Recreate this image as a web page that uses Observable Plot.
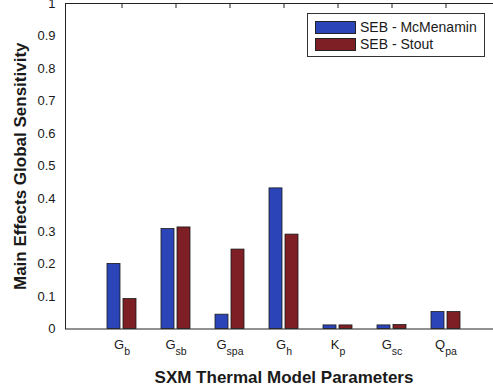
<!DOCTYPE html>
<html><head><meta charset="utf-8">
<script src="https://cdn.jsdelivr.net/npm/d3@7"></script>
<script src="https://cdn.jsdelivr.net/npm/@observablehq/plot@0.6"></script>
<style>
html,body{margin:0;padding:0;background:#fff;overflow:hidden;}
#wrap{position:relative;width:493px;height:391px;overflow:hidden;}
.legend{position:absolute;left:307px;top:13px;width:178px;height:44px;border:1px solid #333;background:#fff;font-family:"Liberation Sans",Arial,sans-serif;font-size:14px;color:#1a1a1a;box-sizing:border-box;}
.legend .row{position:absolute;left:7px;height:14px;display:flex;align-items:center;white-space:nowrap;}
.legend .sw{width:41px;height:13px;border:1px solid #222;box-sizing:border-box;margin-right:4px;}
</style></head>
<body><div id="wrap"></div>
<script>
const params = ["Gb","Gsb","Gspa","Gh","Kp","Gsc","Qpa"];
const paramMain = ["G","G","G","G","K","G","Q"];
const paramSub = ["b","sb","spa","h","p","sc","pa"];
const series = ["SEB - McMenamin","SEB - Stout"];
const colors = ["#2b45b8","#7d1f25"];
const mcmenamin = [0.200,0.307,0.044,0.432,0.011,0.011,0.052];
const stout = [0.092,0.312,0.244,0.290,0.011,0.012,0.052];
const yTicks = [0,0.1,0.2,0.3,0.4,0.5,0.6,0.7,0.8,0.9,1];
const xTitle = "SXM Thermal Model Parameters";
const yTitle = "Main Effects Global Sensitivity";

const data = params.flatMap((p,i)=>[
  {param:p, series:series[0], value:mcmenamin[i]},
  {param:p, series:series[1], value:stout[i]}
]);

const plot = Plot.plot({
  width: 502, height: 391,
  marginLeft: 65, marginRight: 0, marginTop: 3, marginBottom: 62.5,
  style: {fontFamily: "'Liberation Sans', Arial, sans-serif", fontSize: "13px", background: "#fff", color: "#1a1a1a", maxWidth: "none", overflow: "visible"},
  x: {type: "band", domain: params, paddingInner: 0.756, paddingOuter: 0.878, align: 0.5},
  y: {domain: [0, 1]},
  color: {domain: series, range: colors},
  marks: [
    Plot.barY(data.filter(d => d.series === series[0]), {x: "param", y: "value", fill: "series", stroke: "#1a1a1a", strokeWidth: 0.8, dx: -8}),
    Plot.barY(data.filter(d => d.series === series[1]), {x: "param", y: "value", fill: "series", stroke: "#1a1a1a", strokeWidth: 0.8, dx: 8}),
    Plot.frame({stroke: "#222"}),
    Plot.axisY({ticks: yTicks, tickSize: 0, tickPadding: 10, tickFormat: d => String(+d.toFixed(1)), fontSize: 13, label: null}),
    Plot.axisX({anchor: "top", tickSize: 4, dy: 4, tickFormat: () => "", label: null, stroke: "#222"}),
    Plot.axisX({anchor: "bottom", tickSize: 0, tickPadding: 11, fontSize: 13, label: null, tickFormat: d => d}),
    Plot.text([xTitle], {frameAnchor: "bottom", dy: 53.5, lineAnchor: "bottom", fontSize: 17, fontWeight: "bold"}),
    Plot.text([yTitle], {frameAnchor: "left", textAnchor: "middle", rotate: -90, dx: -39.5, lineAnchor: "bottom", fontSize: 17, fontWeight: "bold"})
  ]
});

// TeX-like subscripts on category labels
plot.querySelectorAll('g[aria-label="x-axis tick label"] text').forEach(t => {
  const i = params.indexOf(t.textContent);
  if (i < 0) return;
  t.textContent = paramMain[i];
  const ts = document.createElementNS("http://www.w3.org/2000/svg", "tspan");
  ts.setAttribute("font-size", "10.5");
  ts.setAttribute("dy", "6");
  ts.textContent = paramSub[i];
  t.appendChild(ts);
});

const wrap = document.getElementById("wrap");
wrap.appendChild(plot);

const legend = document.createElement("div");
legend.className = "legend";
series.forEach((s, i) => {
  const row = document.createElement("div");
  row.className = "row";
  row.style.top = (6 + i * 17) + "px";
  const sw = document.createElement("span");
  sw.className = "sw";
  sw.style.background = colors[i];
  const lab = document.createElement("span");
  lab.textContent = s;
  row.appendChild(sw); row.appendChild(lab);
  legend.appendChild(row);
});
wrap.appendChild(legend);
</script>
</body></html>
